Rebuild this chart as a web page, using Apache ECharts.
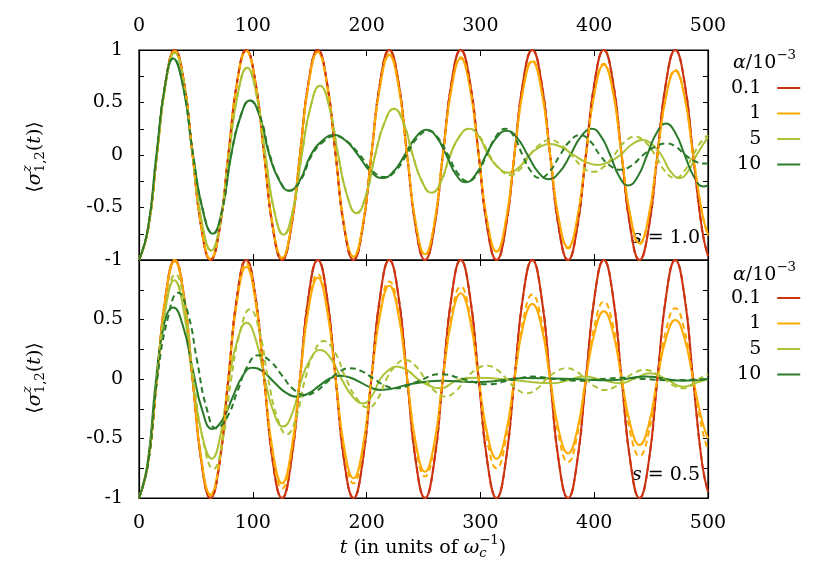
<!DOCTYPE html>
<html><head><meta charset="utf-8">
<script src="https://cdn.jsdelivr.net/npm/echarts@6/dist/echarts.min.js"></script>
<style>html,body{margin:0;padding:0;background:#fff}#c{width:830px;height:581px}</style>
</head><body><div id="c"></div>
<script>
// ---------------- data ----------------
const legendNames = ['0.1', '1', '5', '10'];
const yTickLabels = ['1', '0.5', '0', '-0.5', '-1'];

// common time grid (eighth periods of the carrier)
const tGrid = [0,7.9,15.7,23.6,31.4,39.3,47.1,55.0,62.8,70.7,78.5,86.4,94.2,102.1,110.0,117.8,125.7,133.5,141.4,149.2,157.1,164.9,172.8,180.6,188.5,196.3,204.2,212.1,219.9,227.8,235.6,243.5,251.3,259.2,267.0,274.9,282.7,290.6,298.5,306.3,314.2,322.0,329.9,337.7,345.6,353.4,361.3,369.1,377.0,384.8,392.7,400.6,408.4,416.3,424.1,432.0,439.8,447.7,455.5,463.4,471.2,479.1,486.9,494.8,500];

// ---- top panel, s = 1.0 ----
const redTop = [-1,-0.71,0,0.71,1,0.71,0,-0.71, -1,-0.71,0,0.71,1,0.71,0,-0.71, -1,-0.71,0,0.71,1,0.71,0,-0.71, -1,-0.71,0,0.71,1,0.71,0,-0.71,
                -1,-0.71,0,0.71,1,0.71,0,-0.71, -1,-0.71,0,0.71,1,0.71,0,-0.71, -1,-0.71,0,0.71,1,0.71,0,-0.71, -1,-0.71,0,0.71,1,0.71,0,-0.71, -0.965];
const redTopDash = [-1,-0.71,0,0.71,1,0.71,0,-0.71, -1,-0.71,0,0.71,1,0.71,0,-0.71, -1,-0.71,0,0.71,1,0.71,0,-0.71, -1,-0.71,0,0.71,1,0.71,0,-0.71,
                -1,-0.71,0,0.71,1,0.71,0,-0.71, -1,-0.71,0,0.71,1,0.71,0,-0.71, -1,-0.71,0,0.71,1,0.71,0,-0.71, -1,-0.71,0,0.71,1,0.71,0,-0.71, -0.965];
const orTop = [-1,-0.71,0,0.70, 0.99,0.70,0,-0.70, -0.99,-0.70,0,0.70, 0.99,0.70,0,-0.69, -0.98,-0.69,0,0.69, 0.98,0.69,0,-0.69, -0.97,-0.69,0,0.67, 0.95,0.67,0,-0.67,
               -0.945,-0.67,0,0.65, 0.92,0.65,0,-0.65, -0.92,-0.65,0,0.63, 0.89,0.63,0,-0.62, -0.88,-0.62,0,0.61, 0.86,0.61,0,-0.59, -0.84,-0.59,0,0.57, 0.80,0.57,0,-0.55, -0.76];
const orTopDash = [-1,-0.71,0,0.70, 0.99,0.70,0,-0.70, -0.99,-0.70,0,0.70, 0.99,0.70,0,-0.69, -0.98,-0.69,0,0.69, 0.98,0.69,0,-0.69, -0.97,-0.69,0,0.68, 0.96,0.68,0,-0.67,
               -0.95,-0.67,0,0.66, 0.93,0.66,0,-0.65, -0.92,-0.65,0,0.64, 0.90,0.64,0,-0.63, -0.89,-0.63,0,0.62, 0.87,0.62,0,-0.60, -0.85,-0.60,0,0.57, 0.81,0.57,0,-0.55, -0.77];

const ygTopT = [0,7.9,15.7,23.6,31.4,39.3,47.1,55.3,63.5,71.3,79,87,95,103,111,119,127,135,143,151,159,167,175,183,191,199.3,207.5,215.8,224,232.3,240.5,248.8,257,265.3,273.5,281.8,290,298.5,307,315.8,324.5,333.8,343,352,361,371.5,382,392.5,403,413,423,433,443,451,459,467,475,482.5,490,500];
const ygTop  = [-1,-0.71,0,0.69,0.975,0.69,0,-0.645,-0.91,-0.645,0,0.59,0.83,0.59,0,-0.54,-0.76,-0.54,0,0.47,0.66,0.47,0,-0.39,-0.555,-0.39,0,0.31,0.44,0.31,0,-0.255,-0.36,-0.255,0,0.18,0.25,0.18,0,-0.12,-0.168,-0.12,0,0.074,0.105,0.074,0,-0.067,-0.095,-0.067,0,0.10,0.143,0.10,0,-0.155,-0.22,-0.155,0,0.17];
const ygTopDashT = [0,7.9,15.7,23.6,31.4,39.3,47.1,55.3,63.5,71.3,79,87,95,103,111,119,127,135,143,151,159,167,175,183,191,199.3,207.5,215.8,224,232.3,240.5,248.8,257,265.3,273.5,281.8,290,299,308,317,326,334.8,343.5,352.3,361,370.5,380,389.5,399,408.3,417.5,426.8,436,444.8,453.5,462.3,471,479,487,493.5,500];
const ygTopDash  = [-1,-0.71,0,0.69,0.975,0.69,0,-0.645,-0.91,-0.645,0,0.59,0.83,0.59,0,-0.54,-0.76,-0.54,0,0.47,0.66,0.47,0,-0.39,-0.555,-0.39,0,0.31,0.44,0.31,0,-0.255,-0.36,-0.255,0,0.18,0.25,0.18,0,-0.135,-0.19,-0.135,0,0.10,0.143,0.10,0,-0.113,-0.16,-0.113,0,0.124,0.175,0.124,0,-0.155,-0.22,-0.155,0,0.12,0.19];

const dgTopT = [0,7.7,15.3,22.7,30,38.8,47.5,56.1,64.7,72.9,81,89.3,97.5,106,114.5,123.2,131.8,141.4,151,161,171,181.8,192.5,203.3,214,223.8,233.5,243.3,253,261.5,270,278.5,287,296,305,314,323,332.3,341.5,350.8,360,369.5,379,388.5,398,406,414,422,430,438.3,446.5,454.8,463,471.3,479.5,487.8,496,500];
const dgTop  = [-1,-0.71,0,0.65,0.92,0.65,0,-0.53,-0.75,-0.53,0,0.37,0.52,0.37,0,-0.24,-0.34,-0.24,0,0.135,0.19,0.135,0,-0.155,-0.22,-0.155,0,0.17,0.24,0.17,0,-0.185,-0.26,-0.185,0,0.163,0.23,0.163,0,-0.163,-0.23,-0.163,0,0.177,0.25,0.177,0,-0.205,-0.29,-0.205,0,0.21,0.30,0.21,0,-0.21,-0.30,-0.29];
const dgTopDashT = [0,7.7,15.3,22.7,30,38.8,47.5,56.3,65,73,81,89.3,97.5,106.3,115,123.5,132,142,152,162,172,183,194,205,216,225.5,235,244.5,254,262.8,271.5,280.3,289,297.3,305.5,313.8,322,329.5,337,344.5,352,361,370,378.8,387.5,396.3,405,413.8,422.7,432.8,443,453.3,463.7,471.8,480,488,496,500];
const dgTopDash  = [-1,-0.71,0,0.65,0.92,0.65,0,-0.53,-0.75,-0.53,0,0.37,0.52,0.37,0,-0.24,-0.34,-0.24,0,0.127,0.18,0.127,0,-0.15,-0.21,-0.15,0,0.163,0.23,0.163,0,-0.177,-0.25,-0.177,0,0.177,0.25,0.177,0,-0.155,-0.22,-0.155,0,0.134,0.19,0.134,0,-0.10,-0.14,-0.10,0,0.078,0.11,0.078,0,-0.057,-0.08,-0.08];

// ---- bottom panel, s = 0.5 ----
const redBot = [-1,-0.71,0,0.71,1,0.71,0,-0.71, -1,-0.71,0,0.71,1,0.71,0,-0.71, -1,-0.71,0,0.71,1,0.71,0,-0.71, -1,-0.71,0,0.71,1,0.71,0,-0.71,
                -1,-0.71,0,0.71,1,0.71,0,-0.71, -1,-0.71,0,0.71,1,0.71,0,-0.71, -1,-0.71,0,0.71,1,0.71,0,-0.71, -1,-0.71,0,0.71,1,0.71,0,-0.71, -0.95];
const redBotDash = [-1,-0.71,0,0.71,1,0.71,0,-0.71, -1,-0.71,0,0.71,1,0.71,0,-0.71, -1,-0.71,0,0.71,1,0.71,0,-0.71, -1,-0.71,0,0.71,1,0.71,0,-0.71,
                -1,-0.71,0,0.71,1,0.71,0,-0.71, -1,-0.71,0,0.71,1,0.71,0,-0.71, -1,-0.71,0,0.71,1,0.71,0,-0.71, -1,-0.71,0,0.71,1,0.71,0,-0.71, -0.95];
const orBot = [-1,-0.71,0,0.70, 0.99,0.70,0,-0.69, -0.97,-0.69,0,0.67, 0.944,0.67,0,-0.62, -0.877,-0.62,0,0.60, 0.85,0.60,0,-0.59, -0.835,-0.59,0,0.55, 0.784,0.55,0,-0.55,
               -0.78,-0.55,0,0.51, 0.72,0.51,0,-0.47, -0.67,-0.47,0,0.45, 0.63,0.45,0,-0.44, -0.625,-0.44,0,0.40, 0.57,0.40,0,-0.39, -0.555,-0.39,0,0.35, 0.496,0.35,0,-0.35, -0.5];
const orBotDash = [-1,-0.71,0,0.71, 1.0,0.71,0,-0.69, -0.98,-0.69,0,0.69, 0.97,0.69,0,-0.65, -0.92,-0.65,0,0.62, 0.88,0.62,0,-0.62, -0.877,-0.62,0,0.58, 0.82,0.58,0,-0.58,
               -0.82,-0.58,0,0.55, 0.776,0.55,0,-0.53, -0.75,-0.53,0,0.50, 0.71,0.50,0,-0.49, -0.70,-0.49,0,0.46, 0.65,0.46,0,-0.46, -0.647,-0.46,0,0.42, 0.594,0.42,0,-0.42, -0.6];

const ygBotT = [0,7.8,15.5,23.3,31,39,47,55.5,64,71.5,79,86.8,94.5,102.5,110.5,118.5,126.5,134.8,143,151,159,168.5,178,187.5,197,204.5,212,219.2,226.4,235.7,245,254.8,264.5,280,297,330,364,377,390.4,406,422.7,436,449,464,478.3,490,500];
const ygBot  = [-1,-0.71,0,0.59,0.83,0.59,0,-0.475,-0.67,-0.475,0,0.335,0.473,0.335,0,-0.284,-0.40,-0.284,0,0.173,0.244,0.173,0,-0.145,-0.205,-0.145,0,0.074,0.104,0.074,0,-0.055,-0.078,-0.01,0.01,-0.01,-0.036,-0.01,0.02,-0.005,-0.036,0.005,0.048,-0.005,-0.065,-0.03,0.0];
const ygBotDashT = [0,7.8,15.5,23.8,32,40,48,56.7,65.3,73.2,81,89.3,97.5,105.5,113.5,121.7,129.8,137.9,146,154,162,172,182,191.8,201.5,209.5,217.5,225.6,233.7,242.6,251.5,260.3,269,278,287,296.3,305.5,314.3,323,331.9,340.7,349.4,358,366.9,375.8,384.2,392.5,401,409.5,418.3,427,435.8,444.6,453,461.5,469.9,478.3,485,492,500];
const ygBotDash  = [-1,-0.71,0,0.62,0.88,0.62,0,-0.535,-0.756,-0.535,0,0.414,0.586,0.414,0,-0.33,-0.465,-0.33,0,0.226,0.32,0.226,0,-0.17,-0.24,-0.17,0,0.113,0.16,0.113,0,-0.105,-0.148,-0.105,0,0.08,0.112,0.08,0,-0.085,-0.12,-0.085,0,0.064,0.09,0.064,0,-0.065,-0.092,-0.065,0,0.054,0.076,0.054,0,-0.055,-0.078,-0.055,0,0.04];

const dgBotT = [0,7.5,15,22.5,30,38.5,47,55.8,64.5,73.3,82,90.8,99.6,109.3,119,129,139,148.5,158,167.3,176.6,185.8,195,204,213,240,264.5,300,340,380,415,445,478,500];
const dgBot  = [-1,-0.71,0,0.48,0.60,0.45,0.09,-0.27,-0.42,-0.345,-0.16,0.021,0.095,0.059,-0.03,-0.114,-0.149,-0.123,-0.06,0.002,0.028,0.011,-0.03,-0.074,-0.092,-0.04,-0.015,-0.025,0.008,0.0,-0.01,0.02,-0.015,0.0];
const dgBotDashT = [0,8,16,25.3,34.5,42.8,51,59.5,68,77.2,86.4,95.6,104.8,115.1,125.4,135.7,146,155.9,165.7,175.6,185.4,195.6,205.7,215.9,226,245,264.5,285,305.5,326,346,365.5,385,405,425,445,465,500];
const dgBotDash  = [-1,-0.71,0,0.51,0.725,0.56,0.155,-0.249,-0.414,-0.325,-0.107,0.111,0.20,0.152,0.033,-0.086,-0.134,-0.10,-0.022,0.058,0.09,0.066,0.006,-0.054,-0.078,-0.02,0.04,0,-0.045,-0.012,0.02,0,-0.015,-0.002,0.01,0,-0.01,0];

// ---------------- styling ----------------
const COLORS = ['#cc3311', '#ffaa00', '#adc236', '#2a7a2a'];
const FONT = '"DejaVu Serif", serif';
const FS = 19;

const ctx = document.createElement('canvas').getContext('2d');
function tw(s, size, it) { ctx.font = (it ? 'italic ' : '') + size + 'px ' + FONT; return ctx.measureText(s).width; }
function mathText(parts, o) {
  let x = 0, lastStart = 0; const kids = [];
  parts.forEach(p => {
    const size = FS * (p.s || 1);
    const start = p.stack ? lastStart : x;
    const w = tw(p.t, size, p.it);
    kids.push({ type: 'text', x: start, y: p.dy || 0, silent: true,
      style: { text: p.t, font: (p.it ? 'italic ' : '') + size + 'px ' + FONT, fill: '#000',
        textAlign: 'left', textVerticalAlign: 'middle', align: 'left', verticalAlign: 'middle' } });
    x = Math.max(x, start + w); lastStart = start;
  });
  const shift = o.anchor === 'center' ? -x / 2 : (o.anchor === 'right' ? -x : 0);
  kids.forEach(k => { k.x += shift; });
  return { type: 'group', x: o.x, y: o.y, rotation: o.rot || 0, children: kids };
}

function pairs(ts, vs) { return ts.map((t, i) => [t, vs[i]]); }

function line(name, data, ci, panel, dashed) {
  return { type: 'line', name, data, xAxisIndex: panel * 2, yAxisIndex: panel * 2,
    smooth: 0.5, symbol: 'none', clip: true, silent: true,
    lineStyle: { color: COLORS[ci], width: 2, type: dashed ? [6, 4] : 'solid' },
    itemStyle: { color: COLORS[ci] }, z: dashed ? 3 : 2 };
}

const axisLineS = { show: true, onZero: false, lineStyle: { color: '#000', width: 1.2 } };
function xAx(gi, pos, labels, margin) {
  return { type: 'value', gridIndex: gi, position: pos, min: 0, max: 500, interval: 100,
    axisLine: axisLineS, axisTick: { show: true, inside: true, length: 6, lineStyle: { color: '#000', width: 1 } },
    axisLabel: { show: labels, margin: margin, fontFamily: FONT, fontSize: FS, color: '#000' },
    splitLine: { show: false } };
}
function yAx(gi, pos, labels, hideTop) {
  return { type: 'value', gridIndex: gi, position: pos, min: -1, max: 1, interval: 0.25,
    axisLine: axisLineS, axisTick: { show: true, inside: true, length: 5, lineStyle: { color: '#000', width: 1 } },
    axisLabel: { show: labels, margin: 16, fontFamily: FONT, fontSize: FS, color: '#000',
      formatter: v => {
        const idx = yTickLabels.indexOf(String(v));
        if (idx < 0) return '';
        if (hideTop && idx === 0) return '';
        return yTickLabels[idx];
      } },
    splitLine: { show: false } };
}

const series = [
  line('0.1', pairs(tGrid, redTop), 0, 0, false),
  line('1', pairs(tGrid, orTop), 1, 0, false),
  line('5', pairs(ygTopT, ygTop), 2, 0, false),
  line('10', pairs(dgTopT, dgTop), 3, 0, false),
  line('0.1 d', pairs(tGrid, redTopDash), 0, 0, true),
  line('1 d', pairs(tGrid, orTopDash), 1, 0, true),
  line('5 d', pairs(ygTopDashT, ygTopDash), 2, 0, true),
  line('10 d', pairs(dgTopDashT, dgTopDash), 3, 0, true),
  line('0.1', pairs(tGrid, redBot), 0, 1, false),
  line('1', pairs(tGrid, orBot), 1, 1, false),
  line('5', pairs(ygBotT, ygBot), 2, 1, false),
  line('10', pairs(dgBotT, dgBot), 3, 1, false),
  line('0.1 d', pairs(tGrid, redBotDash), 0, 1, true),
  line('1 d', pairs(tGrid, orBotDash), 1, 1, true),
  line('5 d', pairs(ygBotDashT, ygBotDash), 2, 1, true),
  line('10 d', pairs(dgBotDashT, dgBotDash), 3, 1, true)
];

function legend(top) {
  return { orient: 'vertical', left: 731, top: top, align: 'right', padding: 0,
    icon: 'rect', itemWidth: 23, itemHeight: 2, itemGap: 5.5, data: legendNames, selectedMode: false,
    formatter: '{a|{name}}',
    textStyle: { fontFamily: FONT, fontSize: FS, color: '#000', lineHeight: 20,
      rich: { a: { fontFamily: FONT, fontSize: FS, color: '#000', lineHeight: 20, padding: [0, 11, 0, 0] } } } };
}

const supDy = -7, subDy = 6;
const graphic = [
  mathText([{ t: '⟨' }, { t: 'σ', it: true }, { t: 'z', it: true, s: 0.7, dy: supDy }, { t: '1,2', s: 0.7, dy: subDy, stack: true },
            { t: '(' }, { t: 't', it: true }, { t: ')⟩' }], { x: 35, y: 157, rot: Math.PI / 2, anchor: 'center' }),
  mathText([{ t: '⟨' }, { t: 'σ', it: true }, { t: 'z', it: true, s: 0.7, dy: supDy }, { t: '1,2', s: 0.7, dy: subDy, stack: true },
            { t: '(' }, { t: 't', it: true }, { t: ')⟩' }], { x: 35, y: 378, rot: Math.PI / 2, anchor: 'center' }),
  mathText([{ t: 't', it: true }, { t: ' (in units of ' }, { t: 'ω', it: true }, { t: '−1', s: 0.7, dy: supDy },
            { t: 'c', it: true, s: 0.7, dy: subDy, stack: true }, { t: ')' }], { x: 423, y: 548, anchor: 'center' }),
  mathText([{ t: 'α', it: true }, { t: '/10' }, { t: '−3', s: 0.7, dy: supDy }], { x: 733, y: 63, anchor: 'left' }),
  mathText([{ t: 'α', it: true }, { t: '/10' }, { t: '−3', s: 0.7, dy: supDy }], { x: 733, y: 275, anchor: 'left' }),
  mathText([{ t: 's', it: true }, { t: ' = 1.0' }], { x: 700, y: 238, anchor: 'right' }),
  mathText([{ t: 's', it: true }, { t: ' = 0.5' }], { x: 700, y: 475, anchor: 'right' })
];

const chart = echarts.init(document.getElementById('c'), null, { renderer: 'canvas' });
chart.setOption({
  animation: false,
  backgroundColor: '#fff',
  grid: [
    { left: 139, top: 50, width: 569, height: 210, show: true, borderColor: '#000', borderWidth: 1.2, backgroundColor: 'transparent' },
    { left: 139, top: 260, width: 569, height: 238, show: true, borderColor: '#000', borderWidth: 1.2, backgroundColor: 'transparent' }
  ],
  xAxis: [xAx(0, 'top', true, 14), xAx(0, 'bottom', false, 8), xAx(1, 'bottom', true, 16), xAx(1, 'top', false, 8)],
  yAxis: [yAx(0, 'left', true, false), yAx(0, 'right', false, false), yAx(1, 'left', true, true), yAx(1, 'right', false, false)],
  legend: [legend(78), legend(288)],
  graphic: graphic,
  series: series
});
</script>
</body></html>
